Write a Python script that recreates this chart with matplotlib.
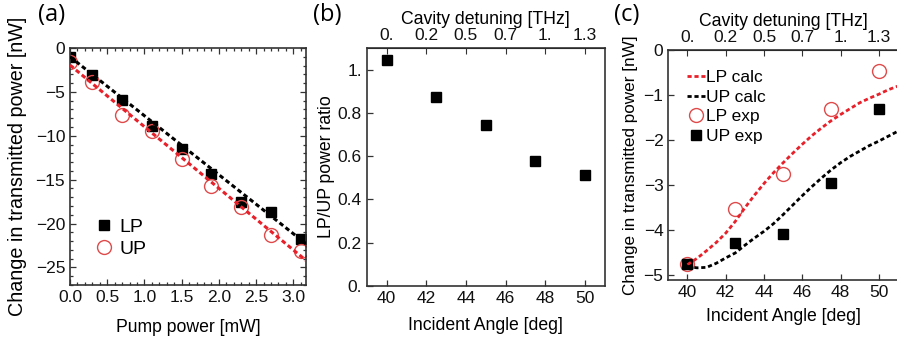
import matplotlib
matplotlib.use("Agg")
import matplotlib.pyplot as plt
from matplotlib.ticker import MultipleLocator
from matplotlib.lines import Line2D

plt.rcParams['font.family'] = ['Liberation Sans', 'DejaVu Sans']

# ---------------- data ----------------
# (a)
pump_power = [0.0, 0.3, 0.7, 1.1, 1.5, 1.9, 2.3, 2.7, 3.1]
lp_a = [-1.0, -3.1, -5.9, -8.9, -11.45, -14.4, -17.5, -18.7, -21.8]
up_a = [-1.6, -3.9, -7.65, -9.5, -12.7, -15.75, -18.1, -21.3, -23.1]
fit_x = [0.0, 3.17]
lp_fit = [-1.0, -22.3]
up_fit = [-1.95, -24.2]

# (b)
angles = [40, 42.5, 45, 47.5, 50]
ratio = [1.046, 0.872, 0.745, 0.58, 0.512]

# (c)
lp_exp = [-4.74, -3.53, -2.76, -1.30, -0.46]
up_exp = [-4.75, -4.29, -4.08, -2.95, -1.30]
calc_angle = [40, 40.5, 41, 41.5, 42, 42.5, 43, 43.5, 44, 44.5, 45, 45.5,
              46, 46.5, 47, 47.5, 48, 48.5, 49, 49.5, 50, 50.5, 51]
lp_calc = [-4.76, -4.62, -4.45, -4.27, -4.06, -3.80, -3.50, -3.22, -2.96,
           -2.72, -2.50, -2.29, -2.09, -1.90, -1.73, -1.57, -1.43, -1.30,
           -1.17, -1.07, -0.98, -0.88, -0.80]
up_calc = [-4.80, -4.83, -4.82, -4.73, -4.61, -4.50, -4.33, -4.17, -4.02,
           -3.85, -3.65, -3.44, -3.23, -3.03, -2.84, -2.66, -2.50, -2.36,
           -2.24, -2.12, -2.02, -1.91, -1.80]

angle_ticks = [40, 42, 44, 46, 48, 50]
detuning_labels = ['0.', '0.2', '0.5', '0.7', '1.', '1.3']

RED = '#e8202a'
CRED = '#e04a4a'
SP = '#333333'
DASH = (0, (1.5, 1.0))
TFS = 12.5
LFS = 12.7

fig = plt.figure(figsize=(8.97, 3.43), dpi=100)
W, H = 897, 343


def add_ax(l, r, t, b):
    return fig.add_axes([l / W, (H - b) / H, (r - l) / W, (b - t) / H])


def style(ax):
    for s in ax.spines.values():
        s.set_color(SP)
        s.set_linewidth(1.2)
    ax.tick_params(which='both', direction='in', colors=SP, labelcolor='#111111',
                   labelsize=TFS, width=0.9)
    ax.tick_params(which='major', length=4)
    ax.tick_params(which='minor', length=2)


# ---------------- (a) ----------------
axa = add_ax(70, 306, 48, 285)
style(axa)
axa.plot(pump_power, lp_a, 's', color='black', ms=7.5, zorder=2)
axa.plot(pump_power, up_a, 'o', mfc='none', mec=CRED, mew=1.0, ms=10, zorder=2)
axa.plot(fit_x, lp_fit, color='black', lw=2.2, ls=DASH, zorder=3)
axa.plot(fit_x, up_fit, color=RED, lw=2.2, ls=DASH, zorder=3)
axa.set_xlim(0, 3.17)
axa.set_ylim(-27, 0)
axa.xaxis.set_major_locator(MultipleLocator(0.5))
axa.xaxis.set_minor_locator(MultipleLocator(0.1))
axa.yaxis.set_major_locator(MultipleLocator(5))
axa.yaxis.set_minor_locator(MultipleLocator(1))
axa.xaxis.set_major_formatter(matplotlib.ticker.FormatStrFormatter('%.1f'))
axa.tick_params(which='both', top=True, right=True)
axa.set_xlabel('Pump power [mW]', fontsize=LFS, labelpad=10)
axa.set_ylabel('Change in transmitted power [nW]', fontsize=14.2, labelpad=6)
hA = [Line2D([], [], ls='none', marker='s', color='black', ms=7.5),
      Line2D([], [], ls='none', marker='o', mfc='none', mec=CRED, mew=1.0, ms=10)]
axa.legend(hA, ['LP', 'UP'], loc='lower left', bbox_to_anchor=(0.06, 0.075),
           frameon=False, fontsize=14, handlelength=1.0, handletextpad=0.3,
           labelspacing=0.2, borderpad=0)
fig.text(52 / W, 1 - 15 / H, '(a)', fontsize=17, ha='center', va='center',
         family=['Open Sans', 'DejaVu Sans'])

# ---------------- (b) ----------------
axb = add_ax(366.7, 605, 48, 286)
style(axb)
axb.plot(angles, ratio, 's', color='black', ms=7.5)
axb.set_xlim(39, 51)
axb.set_ylim(0, 1.10)
axb.set_xticks(angle_ticks)
axb.set_yticks([0, 0.2, 0.4, 0.6, 0.8, 1.0], labels=['0.', '0.2', '0.4', '0.6', '0.8', '1.'])
axb.set_xlabel('Incident Angle [deg]', fontsize=LFS, labelpad=8)
axb.set_ylabel('LP/UP power ratio', fontsize=LFS, labelpad=2)
secb = axb.secondary_xaxis('top')
secb.set_xticks(angle_ticks, labels=detuning_labels)
secb.tick_params(direction='in', length=4, colors=SP, labelcolor='#111111', labelsize=TFS)
secb.set_xlabel('Cavity detuning [THz]', fontsize=LFS, labelpad=3)
fig.text(327 / W, 1 - 15 / H, '(b)', fontsize=17, ha='center', va='center',
         family=['Open Sans', 'DejaVu Sans'])

# ---------------- (c) ----------------
axc = add_ax(668.3, 898, 50, 280)
style(axc)
axc.plot(calc_angle, lp_calc, color=RED, lw=2.0, ls=DASH, label='LP calc', zorder=3)
axc.plot(calc_angle, up_calc, color='black', lw=2.0, ls=DASH, label='UP calc', zorder=3)
axc.plot(angles, lp_exp, 'o', mfc='none', mec=CRED, mew=1.0, ms=10, label='LP exp', zorder=2)
axc.plot(angles, up_exp, 's', color='black', ms=6.5, label='UP exp', zorder=2)
axc.set_xlim(39, 51)
axc.set_ylim(-5.1, 0)
axc.set_xticks(angle_ticks)
axc.set_yticks([0, -1, -2, -3, -4, -5])
axc.set_xlabel('Incident Angle [deg]', fontsize=LFS, labelpad=6)
axc.set_ylabel('Change in transmitted power [nW]', fontsize=12.3, labelpad=4)
secc = axc.secondary_xaxis('top')
secc.set_xticks(angle_ticks, labels=detuning_labels)
secc.tick_params(direction='in', length=4, colors=SP, labelcolor='#111111', labelsize=TFS)
secc.set_xlabel('Cavity detuning [THz]', fontsize=LFS, labelpad=3)
axc.legend(loc='upper left', bbox_to_anchor=(0.045, 0.95), frameon=False,
           fontsize=12.5, handlelength=1.0, handletextpad=0.1,
           labelspacing=0.25, borderpad=0)
fig.text(627 / W, 1 - 15 / H, '(c)', fontsize=17, ha='center', va='center',
         family=['Open Sans', 'DejaVu Sans'])

fig.savefig('out.png', dpi=100)
